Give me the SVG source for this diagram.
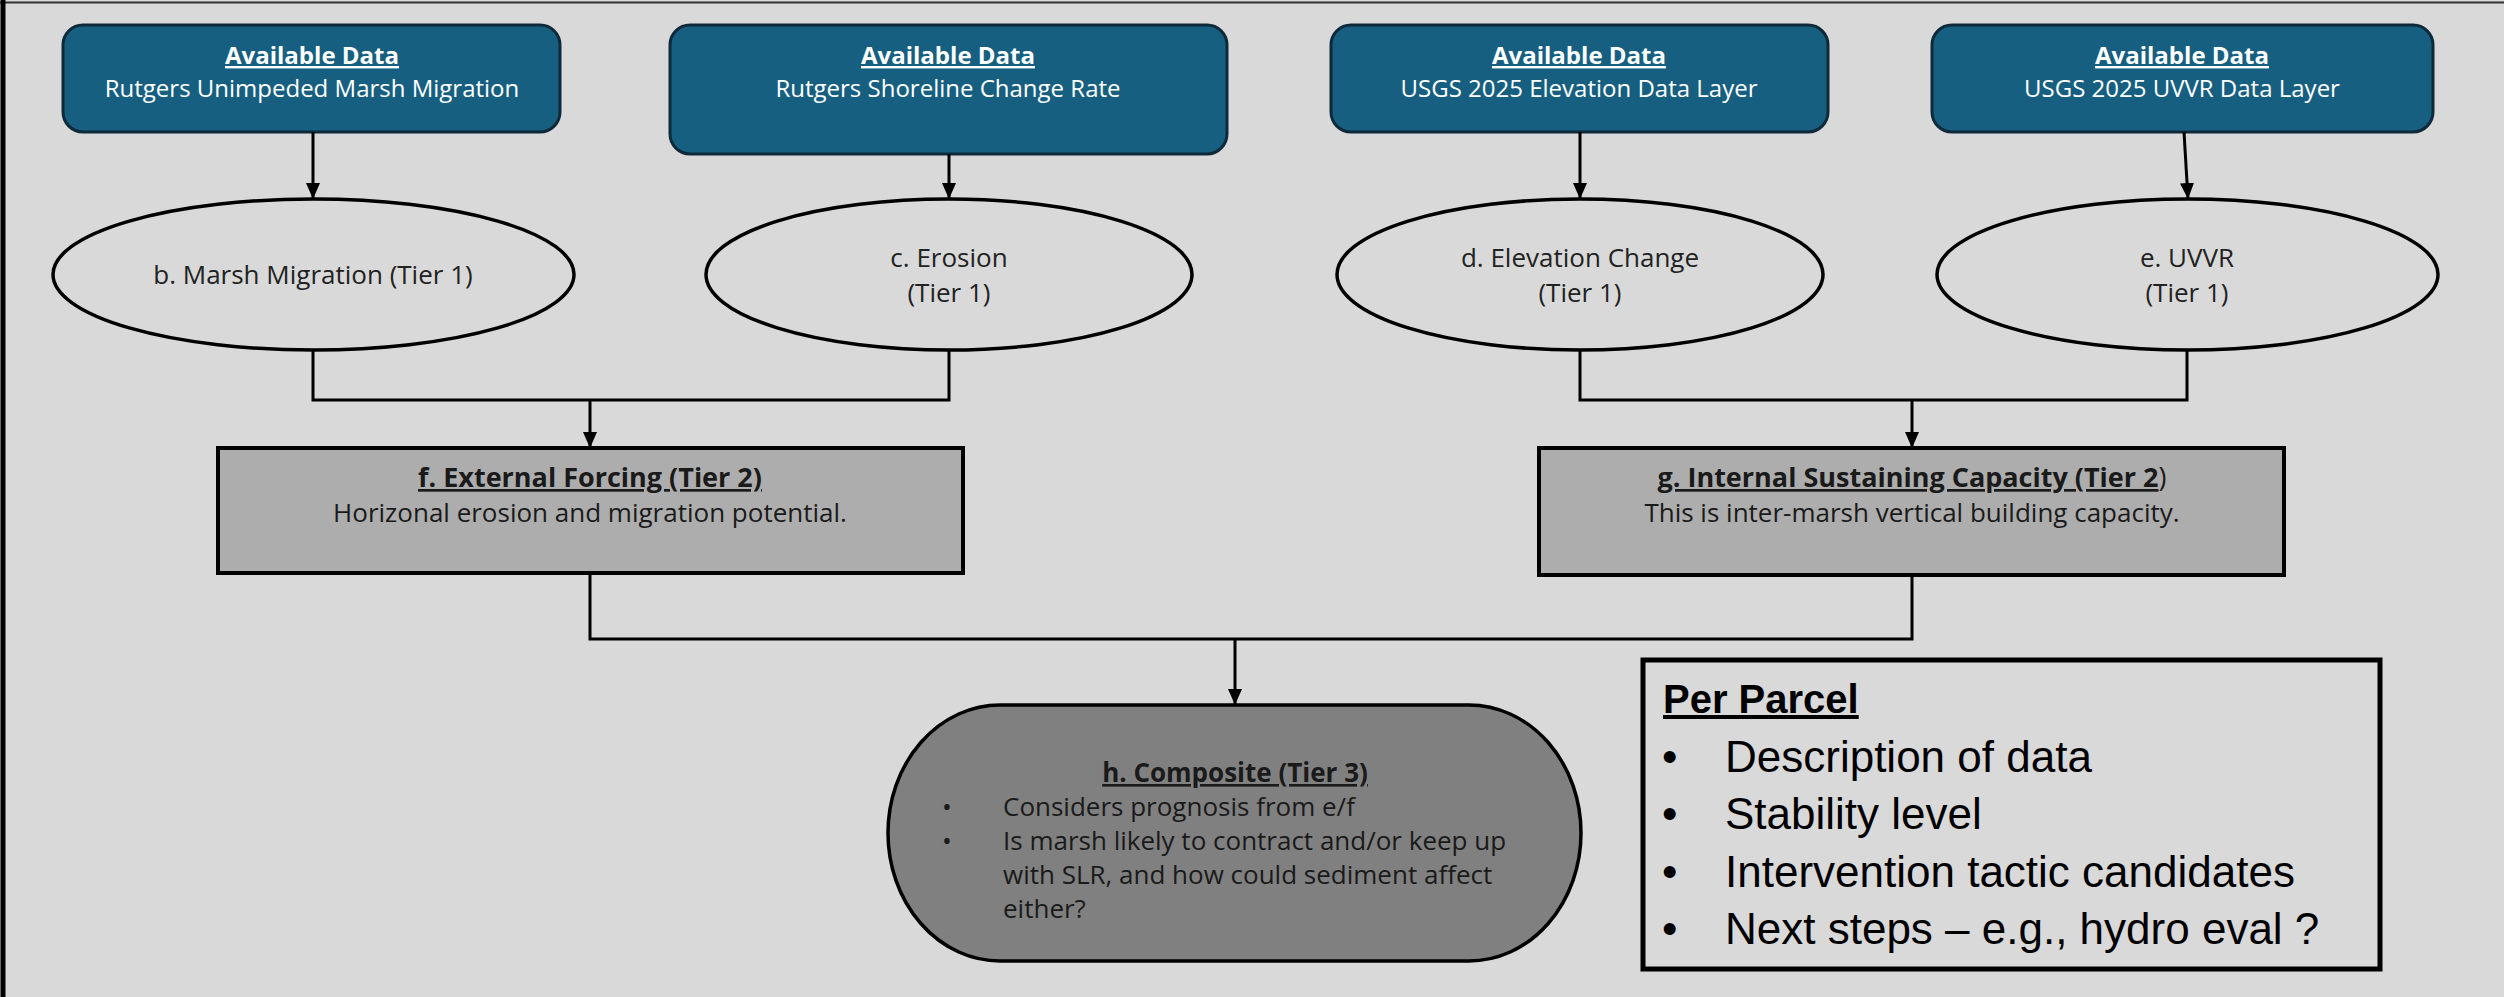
<svg xmlns="http://www.w3.org/2000/svg" width="2504" height="997" viewBox="0 0 2504 997">
<style>
.data rect{fill:#175f80;stroke:#0e2a3a;stroke-width:3}
.data text{font-family:"Open Sans","Liberation Sans",sans-serif;fill:#ffffff;text-anchor:middle}
.dt{font-weight:bold;font-size:24px;text-decoration:underline}
.ds{font-size:24px}
.tier1 ellipse{fill:#d9d9d9;stroke:#000;stroke-width:3.5}
.tier1 text{font-family:"Open Sans","Liberation Sans",sans-serif;font-size:26px;fill:#222;text-anchor:middle}
.tier2 rect{fill:#adadad;stroke:#000;stroke-width:4}
.tier2 text{font-family:"Open Sans","Liberation Sans",sans-serif;fill:#1a1a1a;text-anchor:middle}
.t2t{font-size:27px;font-weight:bold}
.t2s{font-size:26px}
.comp text{font-family:"Open Sans","Liberation Sans",sans-serif;fill:#1a1a1a;font-size:26px}
.conn line,.conn polyline{stroke:#000;stroke-width:3;fill:none}
.pp text{font-family:"Liberation Sans",Arial,sans-serif;fill:#000}
</style>
<defs>
<marker id="ah" viewBox="0 0 16 14" refX="16" refY="7" markerWidth="16" markerHeight="14" orient="auto" markerUnits="userSpaceOnUse">
<path d="M0,0 L16,7 L0,14 z" fill="#000"/>
</marker>
</defs>
<rect x="0" y="0" width="2504" height="997" fill="#d9d9d9"/>
<line x1="0" y1="2.5" x2="2504" y2="2.5" stroke="#333" stroke-width="2"/>
<line x1="3" y1="0" x2="3" y2="997" stroke="#000" stroke-width="5"/>

<g id="data-a" class="data">
<rect x="63" y="25" width="497" height="107" rx="20"/>
<text x="312" y="64" class="dt">Available Data</text>
<text x="312" y="97" class="ds">Rutgers Unimpeded Marsh Migration</text>
</g>
<g id="data-b" class="data">
<rect x="670" y="25" width="557" height="129" rx="20"/>
<text x="948" y="64" class="dt">Available Data</text>
<text x="948" y="97" class="ds">Rutgers Shoreline Change Rate</text>
</g>
<g id="data-c" class="data">
<rect x="1331" y="25" width="497" height="107" rx="20"/>
<text x="1579" y="64" class="dt">Available Data</text>
<text x="1579" y="97" class="ds">USGS 2025 Elevation Data Layer</text>
</g>
<g id="data-d" class="data">
<rect x="1932" y="25" width="501" height="107" rx="20"/>
<text x="2182" y="64" class="dt">Available Data</text>
<text x="2182" y="97" class="ds">USGS 2025 UVVR Data Layer</text>
</g>

<g id="node-b" class="tier1">
<ellipse cx="313.5" cy="274.5" rx="260.5" ry="75.5"/>
<text x="313" y="284">b. Marsh Migration (Tier 1)</text>
</g>
<g id="node-c" class="tier1">
<ellipse cx="949" cy="274.5" rx="243" ry="75.5"/>
<text x="949" y="267">c. Erosion</text>
<text x="949" y="302">(Tier 1)</text>
</g>
<g id="node-d" class="tier1">
<ellipse cx="1580" cy="274.5" rx="243" ry="75.5"/>
<text x="1580" y="267">d. Elevation Change</text>
<text x="1580" y="302">(Tier 1)</text>
</g>
<g id="node-e" class="tier1">
<ellipse cx="2187.5" cy="274.5" rx="250.5" ry="75.5"/>
<text x="2187" y="267">e. UVVR</text>
<text x="2187" y="302">(Tier 1)</text>
</g>

<g id="node-f" class="tier2">
<rect x="218" y="448" width="745" height="125"/>
<text x="590" y="487" class="t2t" text-decoration="underline">f. External Forcing (Tier 2)</text>
<text x="590" y="522" class="t2s">Horizonal erosion and migration potential.</text>
</g>
<g id="node-g" class="tier2">
<rect x="1539" y="448" width="745" height="127"/>
<text x="1912" y="487" class="t2t"><tspan text-decoration="underline">g. Internal Sustaining Capacity (Tier 2</tspan><tspan font-weight="normal">)</tspan></text>
<text x="1912" y="522" class="t2s">This is inter-marsh vertical building capacity.</text>
</g>

<g id="node-h" class="comp">
<rect x="888" y="705" width="693" height="256" rx="112" ry="128" fill="#808080" stroke="#000" stroke-width="3.5"/>
<text x="1235" y="782" text-anchor="middle" font-weight="bold" text-decoration="underline">h. Composite (Tier 3)</text>
<text x="942" y="816" font-family="Liberation Sans, sans-serif">•</text>
<text x="1003" y="816">Considers prognosis from e/f</text>
<text x="942" y="850" font-family="Liberation Sans, sans-serif">•</text>
<text x="1003" y="850">Is marsh likely to contract and/or keep up</text>
<text x="1003" y="884">with SLR, and how could sediment affect</text>
<text x="1003" y="918">either?</text>
</g>

<g id="per-parcel" class="pp">
<rect x="1643" y="660" width="737" height="309" fill="none" stroke="#000" stroke-width="5"/>
<text x="1663" y="713" font-size="40" font-weight="bold" text-decoration="underline">Per Parcel</text>
<text x="1662" y="772" font-size="44">•</text>
<text x="1725" y="772" font-size="44">Description of data</text>
<text x="1662" y="829" font-size="44">•</text>
<text x="1725" y="829" font-size="44">Stability level</text>
<text x="1662" y="887" font-size="44">•</text>
<text x="1725" y="887" font-size="44">Intervention tactic candidates</text>
<text x="1662" y="944" font-size="44">•</text>
<text x="1725" y="944" font-size="44">Next steps – e.g., hydro eval ?</text>
</g>

<g id="connectors" class="conn">
<line x1="313" y1="132" x2="313" y2="199" marker-end="url(#ah)"/>
<line x1="949" y1="154" x2="949" y2="199" marker-end="url(#ah)"/>
<line x1="1580" y1="132" x2="1580" y2="199" marker-end="url(#ah)"/>
<line x1="2184" y1="132" x2="2188" y2="199" marker-end="url(#ah)"/>
<polyline points="313,350 313,400 949,400 949,350"/>
<line x1="590" y1="400" x2="590" y2="448" marker-end="url(#ah)"/>
<polyline points="1580,350 1580,400 2187,400 2187,350"/>
<line x1="1912" y1="400" x2="1912" y2="448" marker-end="url(#ah)"/>
<polyline points="590,573 590,639 1912,639 1912,575"/>
<line x1="1235" y1="639" x2="1235" y2="705" marker-end="url(#ah)"/>
</g>
</svg>
